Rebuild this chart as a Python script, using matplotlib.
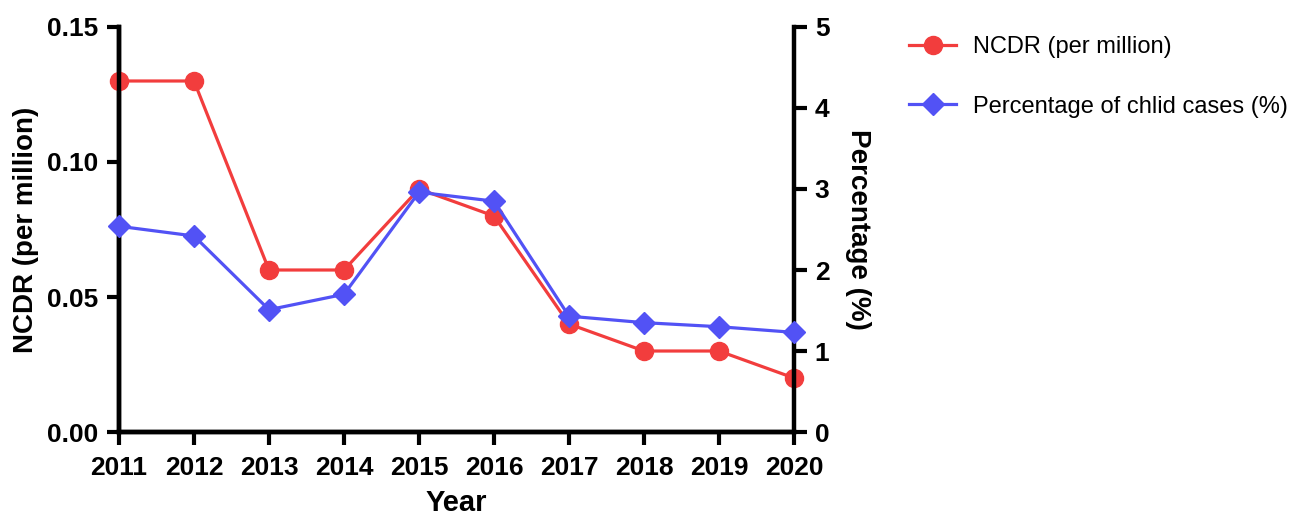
import matplotlib.pyplot as plt

plt.rcParams.update({
    'font.family': ['Liberation Sans', 'DejaVu Sans'],
    'font.size': 19,
    'font.weight': 'bold',
    'axes.linewidth': 3.2,
    'xtick.major.size': 9,
    'xtick.major.width': 3,
    'xtick.major.pad': 8,
    'ytick.major.size': 9,
    'ytick.major.width': 3,
    'ytick.major.pad': 6,
})

# Data
years = [2011, 2012, 2013, 2014, 2015, 2016, 2017, 2018, 2019, 2020]
ncdr = [0.13, 0.13, 0.06, 0.06, 0.09, 0.08, 0.04, 0.03, 0.03, 0.02]
child_pct = [2.54, 2.42, 1.51, 1.70, 2.96, 2.85, 1.43, 1.35, 1.30, 1.23]

red = '#F23D3D'
blue = '#5252F5'

fig = plt.figure(figsize=(13.02, 5.21), dpi=100)
ax = fig.add_axes([0.0914, 0.1708, 0.5184, 0.7774])
ax2 = ax.twinx()

l1, = ax.plot(years, ncdr, color=red, linewidth=2.3, marker='o', markersize=13,
              label='NCDR (per million)', clip_on=False, zorder=3)
l2, = ax2.plot(years, child_pct, color=blue, linewidth=2.3, marker='D', markersize=11,
               label='Percentage of chlid cases (%)', clip_on=False, zorder=3)

ax.set_xlim(2011, 2020)
ax.set_ylim(0, 0.15)
ax.set_yticks([0, 0.05, 0.10, 0.15])
ax.set_yticklabels(['0.00', '0.05', '0.10', '0.15'])
ax.set_xticks(years)
ax2.set_ylim(0, 5)
ax2.set_yticks([0, 1, 2, 3, 4, 5])

for a in (ax, ax2):
    a.spines['top'].set_visible(False)
ax.spines['right'].set_visible(False)

ax.set_xlabel('Year', fontsize=21, fontweight='bold', labelpad=7)
ax.set_ylabel('NCDR (per million)', fontsize=20, fontweight='bold', labelpad=6)
ax2.set_ylabel('Percentage (%)', fontsize=20, fontweight='bold', rotation=270, labelpad=30)

fig.legend(handles=[l1, l2], loc='upper left', bbox_to_anchor=(0.682, 0.972),
           frameon=False, prop={'weight': 'normal', 'size': 17},
           labelspacing=1.6, handlelength=2.0, handletextpad=0.7)

plt.savefig('out.png', dpi=100)
